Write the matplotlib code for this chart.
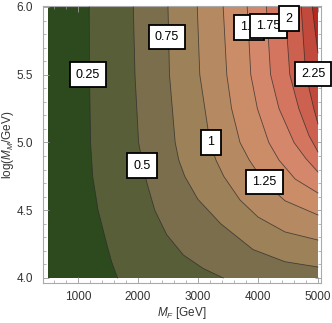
import numpy as np
import matplotlib
matplotlib.use("Agg")
import matplotlib.pyplot as plt
from matplotlib.ticker import MultipleLocator

# ======================================================
# DATA (contours: M_F [GeV], log10 M_M)
# ======================================================
levels = [0.25, 0.5, 0.75, 1.0, 1.25, 1.5, 1.75, 2.0, 2.25, 2.5]

c025_M = [1188, 1192, 1210, 1245, 1335, 1480, 1560, 1660]
c025_L = [6.0, 5.5, 5.0, 4.75, 4.5, 4.25, 4.12, 4.0]

c050_M = [1922, 1950, 2010, 2075, 2150, 2280, 2478, 2755, 3088, 3422]
c050_L = [6.0, 5.5, 5.0, 4.85, 4.7, 4.5, 4.32, 4.17, 4.07, 4.0]

c075_M = [2500, 2525, 2620, 2680, 2780, 3000, 3380, 3917, 4450, 5000]
c075_L = [6.0, 5.5, 5.0, 4.87, 4.75, 4.58, 4.40, 4.21, 4.12, 4.081]

c100_M = [2988, 3030, 3200, 3300, 3430, 3700, 4000, 4450, 5000]
c100_L = [6.0, 5.5, 5.0, 4.87, 4.75, 4.576, 4.45, 4.34, 4.28]

c125_M = [3420, 3480, 3560, 3700, 3855, 4100, 4450, 5000]
c125_L = [6.0, 5.5, 5.25, 5.0, 4.87, 4.71, 4.57, 4.465]

c150_M = [3820, 3880, 3990, 4180, 4350, 4620, 5000]
c150_L = [6.0, 5.5, 5.25, 5.0, 4.87, 4.73, 4.627]

c175_M = [4140, 4210, 4350, 4600, 4800, 5000]
c175_L = [6.0, 5.5, 5.25, 5.0, 4.88, 4.782]

c200_M = [4450, 4530, 4680, 4850, 5000]
c200_L = [6.0, 5.5, 5.25, 5.05, 4.93]

c225_M = [4720, 4780, 4850, 4930, 5000]
c225_L = [6.0, 5.6, 5.4, 5.25, 5.137]

c250_M = [4905, 4950, 5000]
c250_L = [6.0, 5.83, 5.661]

contours_M = [c025_M, c050_M, c075_M, c100_M, c125_M,
              c150_M, c175_M, c200_M, c225_M, c250_M]
contours_L = [c025_L, c050_L, c075_L, c100_L, c125_L,
              c150_L, c175_L, c200_L, c225_L, c250_L]

# contour label positions (M_F, logM)
label_text = ["0.25", "0.5", "0.75", "1", "1.25", "1.5", "1.75", "2", "2.25"]
label_M = [1167, 2067, 2483, 3217, 4108, 3850, 4175, 4517, 4917]
label_L = [5.50, 4.83, 5.78, 5.00, 4.71, 5.85, 5.86, 5.915, 5.505]

band_colors = ["#2c4a1e", "#585e38", "#7a6e4c", "#9c8159", "#b58a63",
               "#cb8c68", "#d5876c", "#d4765f", "#cc614f", "#c24a3c",
               "#b52a20"]

M_min, M_max = 500, 5000
L_min, L_max = 4.0, 6.0

# ======================================================
# PLOT
# ======================================================
plt.rcParams["font.family"] = ["Liberation Sans", "DejaVu Sans"]
plt.rcParams["mathtext.fontset"] = "custom"
plt.rcParams["mathtext.rm"] = "Liberation Sans"
plt.rcParams["mathtext.it"] = "Liberation Sans:italic"

fig = plt.figure(figsize=(3.32, 3.23), dpi=100)
ax = fig.add_axes([42.7 / 332, 1 - 283 / 323, (321 - 42.7) / 332, (283 - 5.5) / 323])

# base band
ax.fill([M_min, M_max, M_max, M_min], [L_min, L_min, L_max, L_max],
        color=band_colors[0], lw=0, zorder=1)

# bands above each level
for i, (cm, cl) in enumerate(zip(contours_M, contours_L)):
    px = list(cm) + [M_max, M_max]
    py = list(cl) + [cl[-1], L_max]
    ax.fill(px, py, color=band_colors[i + 1], lw=0, zorder=2 + i * 0.01)

# contour lines
for cm, cl in zip(contours_M, contours_L):
    ax.plot(cm, cl, color="#2b2b2b", lw=0.6, alpha=0.75, zorder=3)

# labels
for t, m, l in zip(label_text, label_M, label_L):
    ax.text(m, l, t, fontsize=9, ha="center", va="center", zorder=5,
            bbox=dict(boxstyle="square,pad=0.5", fc="white", ec="black", lw=1.3),
            clip_on=False)

ax.set_xlim(412, 5050)
ax.set_ylim(3.963, 6.011)

ax.xaxis.set_minor_locator(MultipleLocator(200))
ax.yaxis.set_minor_locator(MultipleLocator(0.1))
ax.set_xticks([1000, 2000, 3000, 4000, 5000])
ax.set_yticks([4.0, 4.5, 5.0, 5.5, 6.0])
ax.set_yticklabels(["4.0", "4.5", "5.0", "5.5", "6.0"])

ax.tick_params(which="both", direction="in", top=True, right=True,
               color="#999999", labelsize=8.5, labelcolor="#333333")
ax.tick_params(axis="x", which="major", pad=6)
ax.tick_params(axis="y", which="major", pad=7)
ax.tick_params(which="major", length=4, width=0.6)
ax.tick_params(which="minor", length=2, width=0.5)
for s in ax.spines.values():
    s.set_color("#aaaaaa")
    s.set_linewidth(0.8)

ax.set_xlabel(r"$M_F$ [GeV]", fontsize=8.5, color="#333333", labelpad=1)
ax.set_ylabel(r"log($M_M$/GeV)", fontsize=8.5, color="#333333", labelpad=0)

fig.savefig("out.png", dpi=100)
